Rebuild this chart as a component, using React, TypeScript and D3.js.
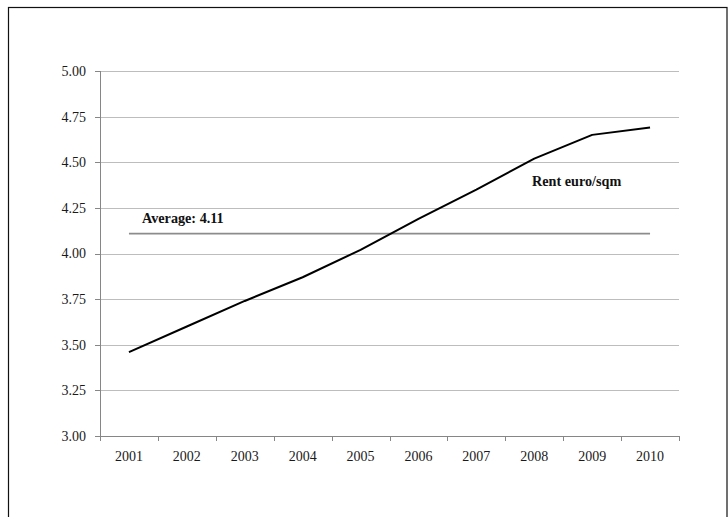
import React from "react";
import * as d3 from "d3";

const years = ["2001", "2002", "2003", "2004", "2005", "2006", "2007", "2008", "2009", "2010"];
const rent = [3.46, 3.6, 3.74, 3.87, 4.02, 4.19, 4.35, 4.52, 4.65, 4.69];
const yTicks = [3.0, 3.25, 3.5, 3.75, 4.0, 4.25, 4.5, 4.75, 5.0];
const seriesName = "Rent euro/sqm";

const W = 728;
const H = 517;
const plot = { left: 100, right: 679, top: 71, bottom: 436 };
const FONT = "'Liberation Serif', 'Times New Roman', serif";

export default function App() {
  const x = d3.scaleBand<string>().domain(years).range([plot.left, plot.right]);
  const y = d3.scaleLinear().domain([3, 5]).range([plot.bottom, plot.top]);
  const cx = (yr: string) => (x(yr) as number) + x.bandwidth() / 2;

  const avg = d3.mean(rent) as number;
  const line = d3
    .line<number>()
    .x((_, i) => cx(years[i]))
    .y((d) => y(d));

  const boundaries = [...years.map((yr) => x(yr) as number), plot.right];

  return (
    <svg
      width={W}
      height={H}
      style={{ position: "absolute", left: 0, top: 0, background: "#fff" }}
      fontFamily={FONT}
    >
      <rect x={8.5} y={7.5} width={718.5} height={520} fill="#fff" stroke="#111" strokeWidth={1.2} />

      {/* horizontal gridlines */}
      {yTicks.map((t) => (
        <line key={"g" + t} x1={plot.left} x2={plot.right} y1={Math.round(y(t)) + 0.5} y2={Math.round(y(t)) + 0.5} stroke="#bdbdbd" strokeWidth={1} />
      ))}

      {/* y axis */}
      <line x1={plot.left + 0.5} x2={plot.left + 0.5} y1={plot.top} y2={plot.bottom} stroke="#868686" />
      {yTicks.map((t) => (
        <g key={"yt" + t}>
          <line x1={plot.left - 5} x2={plot.left} y1={Math.round(y(t)) + 0.5} y2={Math.round(y(t)) + 0.5} stroke="#868686" />
          <text x={86} y={y(t)} dy="0.35em" textAnchor="end" fontSize={14} fill="#1a1a1a">
            {d3.format(".2f")(t)}
          </text>
        </g>
      ))}

      {/* x axis */}
      <line x1={plot.left} x2={plot.right} y1={plot.bottom + 0.5} y2={plot.bottom + 0.5} stroke="#868686" />
      {boundaries.map((b, i) => (
        <line key={"xt" + i} x1={Math.round(b) + 0.5} x2={Math.round(b) + 0.5} y1={plot.bottom} y2={plot.bottom + 5} stroke="#868686" />
      ))}
      {years.map((yr) => (
        <text key={"xl" + yr} x={cx(yr)} y={461} textAnchor="middle" fontSize={14} fill="#1a1a1a">
          {yr}
        </text>
      ))}

      {/* average reference line */}
      <line x1={cx(years[0])} x2={cx(years[years.length - 1])} y1={y(avg)} y2={y(avg)} stroke="#8c8c8c" strokeWidth={1.8} />
      <text x={142} y={223} fontSize={14.2} fontWeight="bold" fill="#111">
        {`Average: ${d3.format(".2f")(avg)}`}
      </text>

      {/* rent series */}
      <path d={line(rent) as string} fill="none" stroke="#000" strokeWidth={2} strokeLinejoin="round" />
      <text x={532} y={186} fontSize={14.2} fontWeight="bold" fill="#111">
        {seriesName}
      </text>
    </svg>
  );
}
